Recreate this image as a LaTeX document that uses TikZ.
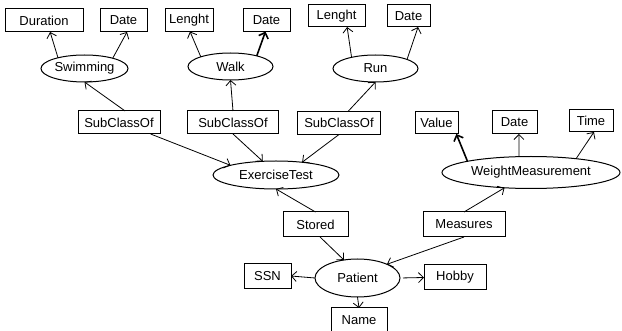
\documentclass[tikz,border=0pt]{standalone}
\usepackage{fontspec}
\setmainfont{Liberation Sans}
\usetikzlibrary{shapes.geometric,arrows.meta}
\begin{document}
\begin{tikzpicture}[x=1pt,y=-1pt,inner sep=0mm,outer sep=0pt,font=\fontsize{13}{15}\selectfont,>={Straight Barb[length=5pt,width=10pt]}]
\tikzstyle{caja}=[rectangle,draw,line width=1pt,minimum height=23pt]
\tikzstyle{clase}=[ellipse,draw,line width=1pt,minimum height=27pt]
\tikzstyle{flecha}=[->,line width=0.8pt]
\useasboundingbox (0,0) rectangle (622,331);
\node at (44,20.5) (nodoDuration)[caja,minimum width=78pt] {Duration};
\node at (123.5,20.5) (nodoDate1)[caja,minimum width=47pt] {Date};
\node at (189,20) (nodoLenght1)[caja,minimum width=48pt] {Lenght};
\node at (266.5,20) (nodoDate2)[caja,minimum width=47pt] {Date};
\node at (336.5,16) (nodoLenght2)[caja,minimum width=57pt,minimum height=22pt] {Lenght};
\node at (408.5,16) (nodoDate3)[caja,minimum width=43pt,minimum height=22pt] {Date};
\node at (84.5,68.5) (nodoSwim)[clase,minimum width=87pt] {Swimming};
\node at (230.5,66.5) (nodoWalk)[clase,minimum width=85pt] {Walk};
\node at (375.5,68.5) (nodoRun)[clase,minimum width=85pt] {Run};
\node at (119,122.5) (nodoSub1)[caja,minimum width=82pt] {SubClassOf};
\node at (233,122.5) (nodoSub2)[caja,minimum width=91pt] {SubClassOf};
\node at (339,123) (nodoSub3)[caja,minimum width=83pt] {SubClassOf};
\node at (436.5,123) (nodoValue)[caja,minimum width=43pt,minimum height=22pt] {Value};
\node at (514.5,122.5) (nodoDate4)[caja,minimum width=45pt] {Date};
\node at (591,121) (nodoTime)[caja,minimum width=44pt,minimum height=22pt] {Time};
\node at (276,175) (nodoExercise)[clase,minimum width=126pt,minimum height=28pt] {ExerciseTest};
\node at (531,172.5) (nodoWeight)[clase,minimum width=178pt,minimum height=32pt] {WeightMeasurement};
\draw [flecha] (nodoSwim.158) to (nodoDuration.298);
\draw [flecha] (nodoSwim.20) to (nodoDate1.287);
\draw [flecha] (nodoWalk.162) to (nodoLenght1.275);
\draw [flecha,line width=1.6pt] (nodoWalk.22) to (nodoDate2.265);
\draw [flecha] (nodoRun.155) to (nodoLenght2.314);
\draw [flecha] (nodoRun.16) to (nodoDate3.311);
\draw [flecha] (nodoSub1.62) to (nodoSwim.south);
\draw [flecha] (nodoSub1.340) to (nodoExercise.168);
\draw [flecha] (nodoSub2.north) to (nodoWalk.south);
\draw [flecha] (nodoSub2.south) to (nodoExercise.134);
\draw [flecha] (nodoSub3.52) to (nodoRun.south);
\draw [flecha] (nodoSub3.south) to (nodoExercise.26);
\draw [flecha,line width=1.6pt] (nodoWeight.170) to (nodoValue.331);
\draw [flecha] (nodoWeight.127) to (nodoDate4.291);
\draw [flecha] (nodoWeight.17) to (nodoTime.285);
%% parte de abajo: el paciente
\node at (315.5,224.5) (nodoStored)[caja,minimum width=65pt,minimum height=25pt] {Stored};
\node at (464,224.5) (nodoMeasures)[caja,minimum width=82pt,minimum height=25pt] {Measures};
\node at (357.5,278) (nodoPatient)[clase,minimum width=85pt,minimum height=38pt] {Patient};
\node at (267.5,276) (nodoSSN)[caja,minimum width=47pt,minimum height=25pt] {SSN};
\node at (455,277.5) (nodoHobby)[caja,minimum width=62pt,minimum height=25pt] {Hobby};
\node at (359,320) (nodoName)[caja,minimum width=56pt,minimum height=24pt] {Name};
\draw [flecha] (nodoStored.north) to (nodoExercise.south);
\draw [flecha] (nodoStored.290) to (nodoPatient.127);
\draw [flecha] (nodoMeasures.north) to (nodoWeight.210);
\draw [flecha] (nodoMeasures.south) to (nodoPatient.25);
\draw [flecha] (nodoPatient.west) to (nodoSSN.east);
\draw [flecha,shorten <=3pt] (nodoPatient.east) to (nodoHobby.west);
\draw [flecha] (nodoPatient.south) to (nodoName.north);
\end{tikzpicture}
\end{document}
